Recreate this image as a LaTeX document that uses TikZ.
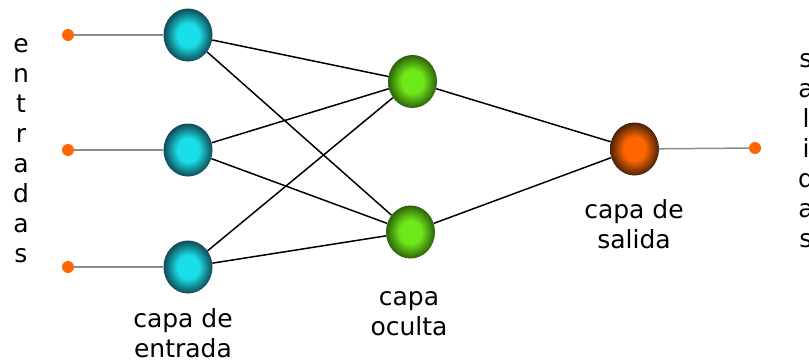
\documentclass[tikz,border=0pt]{standalone}
\usepackage{fontspec}
\setmainfont{DejaVu Sans}
\usetikzlibrary{shapes.geometric}
\definecolor{incyan}{HTML}{1ADFE8}
\definecolor{indark}{HTML}{0E4A55}
\definecolor{hidgreen}{HTML}{6FE81A}
\definecolor{hiddark}{HTML}{2C620A}
\definecolor{outorange}{HTML}{FF6600}
\definecolor{outdark}{HTML}{4A2208}
\definecolor{dotorange}{HTML}{FF6600}
\colorlet{nrnin}{white}
\colorlet{nrnout}{black}
\pgfdeclareradialshading[nrnin,nrnout]{neuron}{\pgfpoint{0bp}{0bp}}{color(0bp)=(nrnin); color(11bp)=(nrnin); color(25bp)=(nrnout); color(50bp)=(nrnout)}
\tikzset{
	nrncolors/.code 2 args={\colorlet{nrnin}{#1}\colorlet{nrnout}{#2}},
	neuron/.style 2 args={ellipse, minimum width=49pt, minimum height=53pt, inner sep=0pt, nrncolors={#1}{#2}, shading=neuron},
	iodot/.style={circle, fill=dotorange, minimum size=12pt, inner sep=0pt},
	iowire/.style={gray!90, line width=1.5pt},
	link/.style={black, line width=1.5pt},
	layertext/.style={align=center, font=\fontsize{25}{30}\selectfont, inner sep=0pt}
}
\begin{document}
\begin{tikzpicture}[x=1pt,y=-1pt]
	\useasboundingbox (0,0) rectangle (809,364);
	% capa de entrada
	\foreach \y [count=\i] in {35,150,267} {
		\node[iodot] (x\i) at (68,\y) {};
		\node[neuron={incyan}{indark}] (in\i) at (188,\y) {};
		\draw[iowire] (x\i) -- (in\i);
	}
	% capa oculta y salida
	\node[neuron={hidgreen}{hiddark}] (h1) at (412.5,81.5) {};
	\node[neuron={hidgreen}{hiddark}] (h2) at (410.5,232) {};
	\node[neuron={outorange}{outdark}] (out) at (634.5,149) {};
	\node[iodot] (y1) at (755,148) {};
	\foreach \i in {1,2,3} \foreach \j in {1,2} \draw[link] (in\i) -- (h\j);
	\foreach \j in {1,2} \draw[link] (h\j) -- (out);
	\draw[iowire] (out) -- (y1);
	% textos (anchor base = ultima linea)
	\node[layertext, anchor=base] (lblin) at (183,357) {capa de\\entrada};
	\node[layertext, anchor=base] (lblhid) at (409,335) {capa\\oculta};
	\node[layertext, anchor=base] (lblout) at (634,248) {capa de\\salida};
	\node[layertext, anchor=base] (lblx) at (21,262) {e\\n\\t\\r\\a\\d\\a\\s};
	\node[layertext, anchor=base] (lbly) at (806,247) {s\\a\\l\\i\\d\\a\\s};
\end{tikzpicture}
\end{document}
